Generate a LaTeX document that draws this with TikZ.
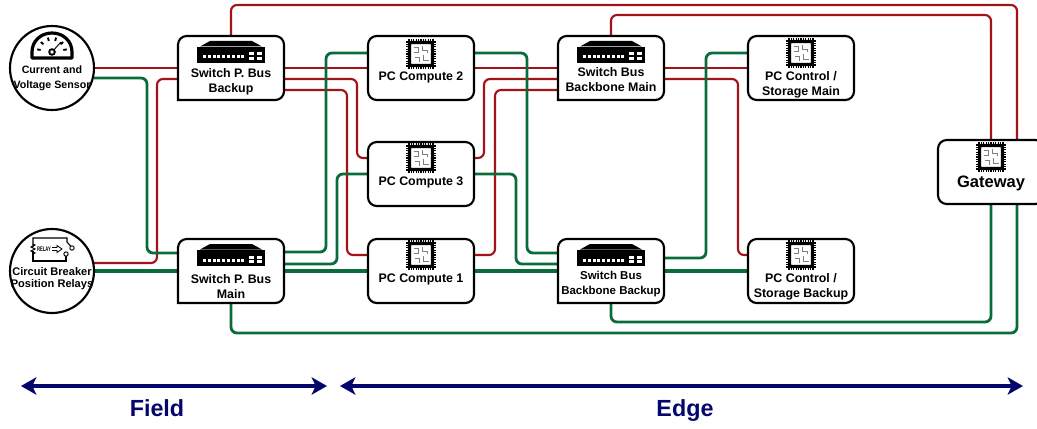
\documentclass[tikz,border=0pt]{standalone}
\usepackage{fontspec}
\setmainfont{Liberation Sans}
\usetikzlibrary{calc,backgrounds,arrows.meta}

\definecolor{busred}{RGB}{163,18,24}
\definecolor{busgreen}{RGB}{10,108,58}
\definecolor{spanblue}{RGB}{5,5,110}

\tikzset{
    databox/.style = {draw, fill=white, line width=1.6pt, rounded corners=6.5pt, minimum width=79.5pt, minimum height=48pt, inner sep=0pt, outer sep=0pt},
    switchbox/.style = {minimum width=79.5pt, minimum height=48pt, inner sep=0pt, outer sep=0pt},
    devcircle/.style = {draw, fill=white, circle, line width=1.6pt, minimum size=63pt, inner sep=0pt, outer sep=0pt},
    boxtext/.style = {align=center, inner sep=0pt, font=\bfseries\fontsize{9.3}{11.2}\selectfont},
    smalltext/.style = {align=center, inner sep=0pt, font=\bfseries\fontsize{8.6}{11.2}\selectfont},
    redbus/.style = {draw=busred, line width=1.6pt, rounded corners=4.5pt},
    greenbus/.style = {draw=busgreen, line width=2.1pt, rounded corners=4.5pt},
    mainbus/.style = {draw=busgreen, line width=2.4pt},
    spanarrow/.style = {draw=spanblue, line width=2.5pt, {Stealth[length=11.5pt,width=13pt,inset=3pt]}-{Stealth[length=11.5pt,width=13pt,inset=3pt]}},
    spantext/.style = {text=spanblue, inner sep=0pt, anchor=base, font=\bfseries\fontsize{17.5}{20}\selectfont},
    chip/.pic = {
        \foreach \k in {-12,-9.6,...,12.1} {
            \draw[line width=1pt] (\k,-15) -- (\k,15);
            \draw[line width=1pt] (-15,\k) -- (15,\k);
        }
        \draw[fill=white, line width=2.4pt, rounded corners=1.5pt] (-11.5,-11.5) rectangle (11.5,11.5);
        \draw[gray, line width=.45pt] (-7,-7) -- (-3,-7) -- (-3,-2) -- (-7,-2);
        \draw[gray, line width=.45pt] (1,-8) -- (1,-4) -- (6,-4) -- (6,-1);
        \draw[gray, line width=.45pt] (-6,3) -- (-2,3) -- (-2,8);
        \draw[gray, line width=.45pt] (2,1) -- (2,6) -- (8,6);
    },
    netswitch/.pic = {
        \fill (-21,-27) -- (21,-27) -- (31,-21.5) -- (-31,-21.5) -- cycle;
        \fill (-34,-21) rectangle (34,-5);
        \foreach \k in {-28,-23.2,...,14} {
            \fill[white] (\k,-12.5) rectangle ++(2.9,3);
        }
        \foreach \k in {18,26} {
            \fill[white] (\k,-15.5) rectangle ++(4.5,3);
            \fill[white] (\k,-11) rectangle ++(4.5,3);
        }
    },
    gauge/.pic = {
        \draw[line width=2.4pt, line join=round] (-20,6) -- (-20,0) .. controls (-20,-11) and (-11,-19) .. (0,-19)
            .. controls (11,-19) and (20,-11) .. (20,0) -- (20,6) -- cycle;
        \foreach \a in {10,42,74,106,138,170} {
            \draw[line width=1.4pt] ({11.5*cos(\a)},{-11.5*sin(\a)}) -- ({15*cos(\a)},{-15*sin(\a)});
        }
        \draw[line width=.7pt] (0,0) -- (9,-10);
        \draw[line width=1.4pt, fill=white] (0,0) circle[radius=2.8];
    },
    relayicon/.pic = {
        \draw[line width=.8pt] (-18,-2) |- (16,-11) -- (16,-7) -- (19.5,-3);
        \draw[line width=.8pt] (-18,2) |- (15,12) -- (15,7);
        \draw[line width=.8pt] (-18,-5) -- (-16,-4) -- (-20,-2) -- (-16,0) -- (-20,2) -- (-16,4) -- (-18,5);
        \draw[line width=.7pt] (21,-1) circle[radius=2.2];
        \draw[line width=.7pt] (15,5) circle[radius=2.2];
        \draw[line width=.6pt] (1,-1.5) -- (6,-1.5) -- (6,-3.5) -- (11,0) -- (6,3.5) -- (6,1.5) -- (1,1.5);
        \node[inner sep=0pt, font=\bfseries\fontsize{5}{5}\selectfont] (relayword) at (-7,0) {\scalebox{.62}[1]{RELAY}};
    }
}

\begin{document}
\begin{tikzpicture}[x=.75pt, y=-.75pt]
\useasboundingbox (0,0) rectangle (1037,428);

% field devices
\node[devcircle] (sensor) at (52,68) {};
\pic at (52,52) {gauge};
\node[smalltext, font=\bfseries\fontsize{8}{11.2}\selectfont] (sensortext) at (52,78.5) {Current and\\Voltage Sensor};
\node[devcircle] (relay) at (52,271) {};
\pic at (51,249) {relayicon};
\node[smalltext, font=\bfseries\fontsize{8.3}{9.5}\selectfont] (relaytext) at (52,278.5) {Circuit Breaker\\Position Relays};

% switches have one square corner, so their frames come first
\node[switchbox] (swbackup) at (231,68) {};
\node[switchbox] (swmain) at (231,271) {};
\node[switchbox] (sbmain) at (611,68) {};
\node[switchbox] (sbbackup) at (611,271) {};
\foreach \n in {swbackup,swmain,sbmain,sbbackup} {
    \draw[fill=white, line width=1.6pt] (\n.west) -- (\n.south west) -- (\n.south) [rounded corners=6.5pt]
        -- (\n.south east) -- (\n.north east) -- (\n.north west) -- cycle;
}

% process bus switches
\pic at (231,68) {netswitch};
\node[boxtext] (swbackuptext) at (231,81.5) {Switch P. Bus\\Backup};
\pic at (231,271) {netswitch};
\node[boxtext] (swmaintext) at (231,286.5) {Switch P. Bus\\Main};

% compute
\node[databox] (pctwo) at (421,68) {};
\pic at (421,54) {chip};
\node[boxtext] (pctwotext) at (421,77.5) {PC Compute 2};
\node[databox] (pcthree) at (421,174) {};
\pic at (421,158) {chip};
\node[boxtext] (pcthreetext) at (421,182.5) {PC Compute 3};
\node[databox] (pcone) at (421,271) {};
\pic at (421,255) {chip};
\node[boxtext] (pconetext) at (421,279.5) {PC Compute 1};

% backbone switches
\pic at (611,68) {netswitch};
\node[boxtext] (sbmaintext) at (611,80) {Switch Bus\\Backbone Main};
\pic at (611,271) {netswitch};
\node[smalltext] (sbbackuptext) at (611,284) {Switch Bus\\Backbone Backup};

% control
\node[databox] (ctrlmain) at (801,68) {};
\pic at (801,53) {chip};
\node[boxtext] (ctrlmaintext) at (801,84.5) {PC Control /\\Storage Main};
\node[databox] (ctrlbackup) at (801,271) {};
\pic at (801,255) {chip};
\node[boxtext] (ctrlbackuptext) at (801,287) {PC Control /\\Storage Backup};

\node[databox] (gateway) at (991,172) {};
\pic at (991,157) {chip};
\node[boxtext, font=\bfseries\fontsize{12.4}{14}\selectfont] (gatewaytext) at (991,183) {Gateway};

\begin{scope}[on background layer]
% red network
\draw[redbus] (sensor.east) -- (swbackup.west);
\draw[redbus] ($(relay.east)+(0,-8)$) -| (157,79) -- ($(swbackup.west)+(0,11)$);
\draw[redbus] (swbackup.north) |- (1017,5) -- (gateway.north -| 1017,0);
\draw[redbus] (swbackup.east) -- (pctwo.west);
\draw[redbus] ($(swbackup.east)+(0,11)$) -| (357,158) -- ($(pcthree.west)+(0,-16)$);
\draw[redbus] ($(swbackup.east)+(0,22)$) -| (347,255) -- ($(pcone.west)+(0,-16)$);
\draw[redbus] (pctwo.east) -- (sbmain.west);
\draw[redbus] ($(pcthree.east)+(0,-16)$) -| (484,79) -- ($(sbmain.west)+(0,11)$);
\draw[redbus] ($(pcone.east)+(0,-16)$) -| (495,90) -- ($(sbmain.west)+(0,22)$);
\draw[redbus] (sbmain.north) |- (991,15) -- (gateway.north);
\draw[redbus] (sbmain.east) -- (ctrlmain.west);
\draw[redbus] ($(sbmain.east)+(0,11)$) -| (738,255) -- ($(ctrlbackup.west)+(0,-16)$);

% green network
\draw[greenbus] ($(sensor.east)+(0,10)$) -| (147,253) -- ($(swmain.west)+(0,-18)$);
\draw[mainbus] (relay.east) -- (swmain.west);
\draw[greenbus] ($(swmain.east)+(0,-19)$) -| (326,53) -- ($(pctwo.west)+(0,-15)$);
\draw[greenbus] ($(swmain.east)+(0,-7)$) -| (337,174) -- (pcthree.west);
\draw[mainbus] (swmain.east) -- (pcone.west);
\draw[greenbus] (swmain.south) |- (1017,333) -- (gateway.south -| 1017,0);
\draw[greenbus] ($(pctwo.east)+(0,-15)$) -| (527,253) -- ($(sbbackup.west)+(0,-18)$);
\draw[greenbus] (pcthree.east) -| (516,264) -- ($(sbbackup.west)+(0,-7)$);
\draw[mainbus] (pcone.east) -- (sbbackup.west);
\draw[greenbus] (sbbackup.south) |- (991,322) -- (gateway.south);
\draw[greenbus] ($(sbbackup.east)+(0,-13)$) -| (706,53) -- ($(ctrlmain.west)+(0,-15)$);
\draw[mainbus] (sbbackup.east) -- (ctrlbackup.west);
\end{scope}

% field and edge spans
\coordinate (fieldleft) at (21,386);
\coordinate (fieldright) at (327,386);
\coordinate (edgeleft) at (340,386);
\coordinate (edgeright) at (1023,386);
\draw[spanarrow] (fieldleft) -- (fieldright);
\draw[spanarrow] (edgeleft) -- (edgeright);
\node[spantext] (fieldtext) at (157,416) {Field};
\node[spantext] (edgetext) at (685,416) {Edge};
\end{tikzpicture}
\end{document}
